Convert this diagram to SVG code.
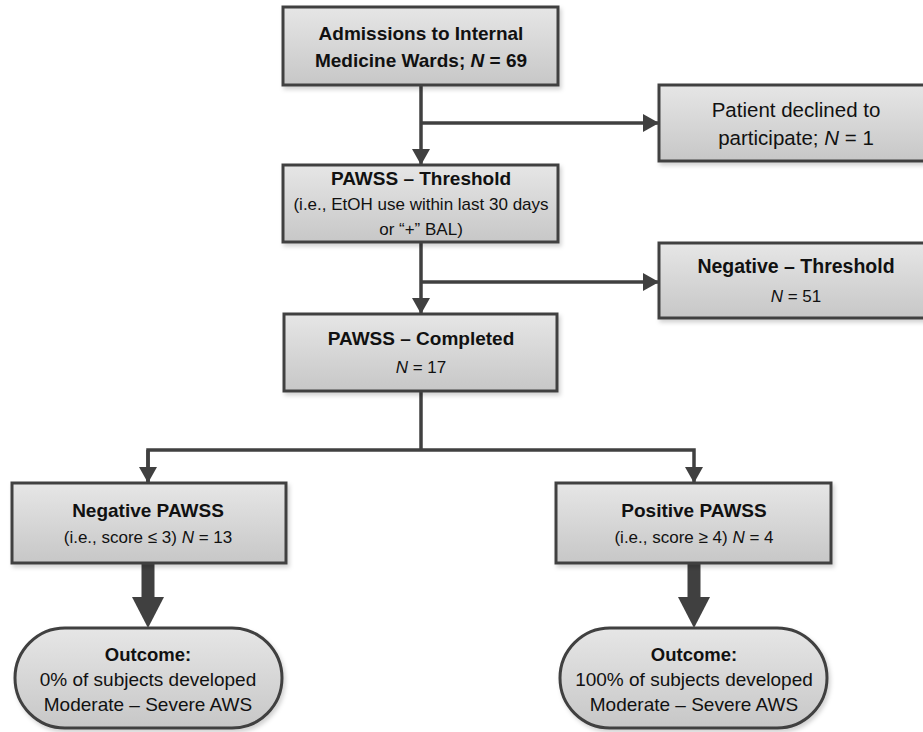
<svg xmlns="http://www.w3.org/2000/svg" width="923" height="732" viewBox="0 0 923 732">
<defs>
<linearGradient id="g" x1="0" y1="0" x2="0" y2="1">
<stop offset="0" stop-color="#e6e6e6"/>
<stop offset="1" stop-color="#c7c7c7"/>
</linearGradient>
<filter id="sh" x="-5%" y="-5%" width="115%" height="125%">
<feDropShadow dx="2" dy="3" stdDeviation="2" flood-color="#000" flood-opacity="0.18"/>
</filter>
<marker id="ah" markerUnits="userSpaceOnUse" markerWidth="18" markerHeight="18" viewBox="0 0 16 18" refX="16" refY="9" orient="auto">
<path d="M0,0 L16,9 L0,18 Z" fill="#404040"/>
</marker>
<style>
.box{fill:url(#g);stroke:#404040;stroke-width:3;filter:url(#sh)}
.ln{fill:none;stroke:#404040;stroke-width:3.5}
text{font-family:"Liberation Sans",Arial,sans-serif;fill:#111;text-anchor:middle}
.b{font-weight:bold;font-size:19px}
.s{font-size:17px}
.m{font-size:20.5px}
.o{font-size:19px}
.ob{font-weight:bold;font-size:18.5px}
</style>
</defs>
<rect width="923" height="732" fill="#fff"/>
<g id="connectors">
<path class="ln" d="M421,85 V165" marker-end="url(#ah)"/>
<path class="ln" d="M421,123 H659" marker-end="url(#ah)"/>
<path class="ln" d="M421,242 V314" marker-end="url(#ah)"/>
<path class="ln" d="M421,282 H659" marker-end="url(#ah)"/>
<path class="ln" d="M421,391 V450"/>
<path class="ln" d="M148,483 V450 H694 V483" marker-end="url(#ah)"/>
<path class="ln" d="M148,450 V483" marker-end="url(#ah)"/>
<path d="M148,563 V598" stroke="#404040" stroke-width="13" stroke-linecap="round" fill="none"/>
<polygon points="132,597 164,597 148,628" fill="#404040"/>
<path d="M694,563 V598" stroke="#404040" stroke-width="13" stroke-linecap="round" fill="none"/>
<polygon points="678,597 710,597 694,628" fill="#404040"/>
</g>
<g id="admissions">
<rect class="box" x="283" y="7" width="275" height="78"/>
<text class="b" x="421" y="40">Admissions to Internal</text>
<text class="b" x="421" y="67">Medicine Wards; <tspan font-style="italic">N</tspan> = 69</text>
</g>
<g id="declined">
<rect class="box" x="659" y="85" width="276" height="76"/>
<text class="m" x="796" y="117">Patient declined to</text>
<text class="m" x="796" y="145">participate; <tspan font-style="italic">N</tspan> = 1</text>
</g>
<g id="threshold">
<rect class="box" x="283" y="165" width="275" height="77"/>
<text class="b" x="421" y="185">PAWSS – Threshold</text>
<text class="s" x="421" y="210">(i.e., EtOH use within last 30 days</text>
<text class="s" x="421" y="235">or “+” BAL)</text>
</g>
<g id="neg-threshold">
<rect class="box" x="659" y="243" width="276" height="75"/>
<text class="b" x="796" y="273" style="font-size:19.5px">Negative – Threshold</text>
<text class="s" x="796" y="302"><tspan font-style="italic">N</tspan> = 51</text>
</g>
<g id="completed">
<rect class="box" x="284" y="314" width="273" height="77"/>
<text class="b" x="421" y="345">PAWSS – Completed</text>
<text class="s" x="421" y="373"><tspan font-style="italic">N</tspan> = 17</text>
</g>
<g id="neg-pawss">
<rect class="box" x="12" y="483" width="274" height="80"/>
<text class="b" x="148" y="517">Negative PAWSS</text>
<text class="s" x="148" y="543">(i.e., score ≤ 3) <tspan font-style="italic">N</tspan> = 13</text>
</g>
<g id="pos-pawss">
<rect class="box" x="556" y="483" width="275" height="80"/>
<text class="b" x="694" y="517">Positive PAWSS</text>
<text class="s" x="694" y="543">(i.e., score ≥ 4) <tspan font-style="italic">N</tspan> = 4</text>
</g>
<g id="outcome-neg">
<rect class="box" x="15" y="628" width="267" height="100" rx="50" ry="50"/>
<text class="ob" x="148" y="661">Outcome:</text>
<text class="o" x="148" y="686">0% of subjects developed</text>
<text class="o" x="148" y="711">Moderate – Severe AWS</text>
</g>
<g id="outcome-pos">
<rect class="box" x="560" y="628" width="267" height="100" rx="50" ry="50"/>
<text class="ob" x="694" y="661">Outcome:</text>
<text class="o" x="694" y="686">100% of subjects developed</text>
<text class="o" x="694" y="711">Moderate – Severe AWS</text>
</g>
</svg>
